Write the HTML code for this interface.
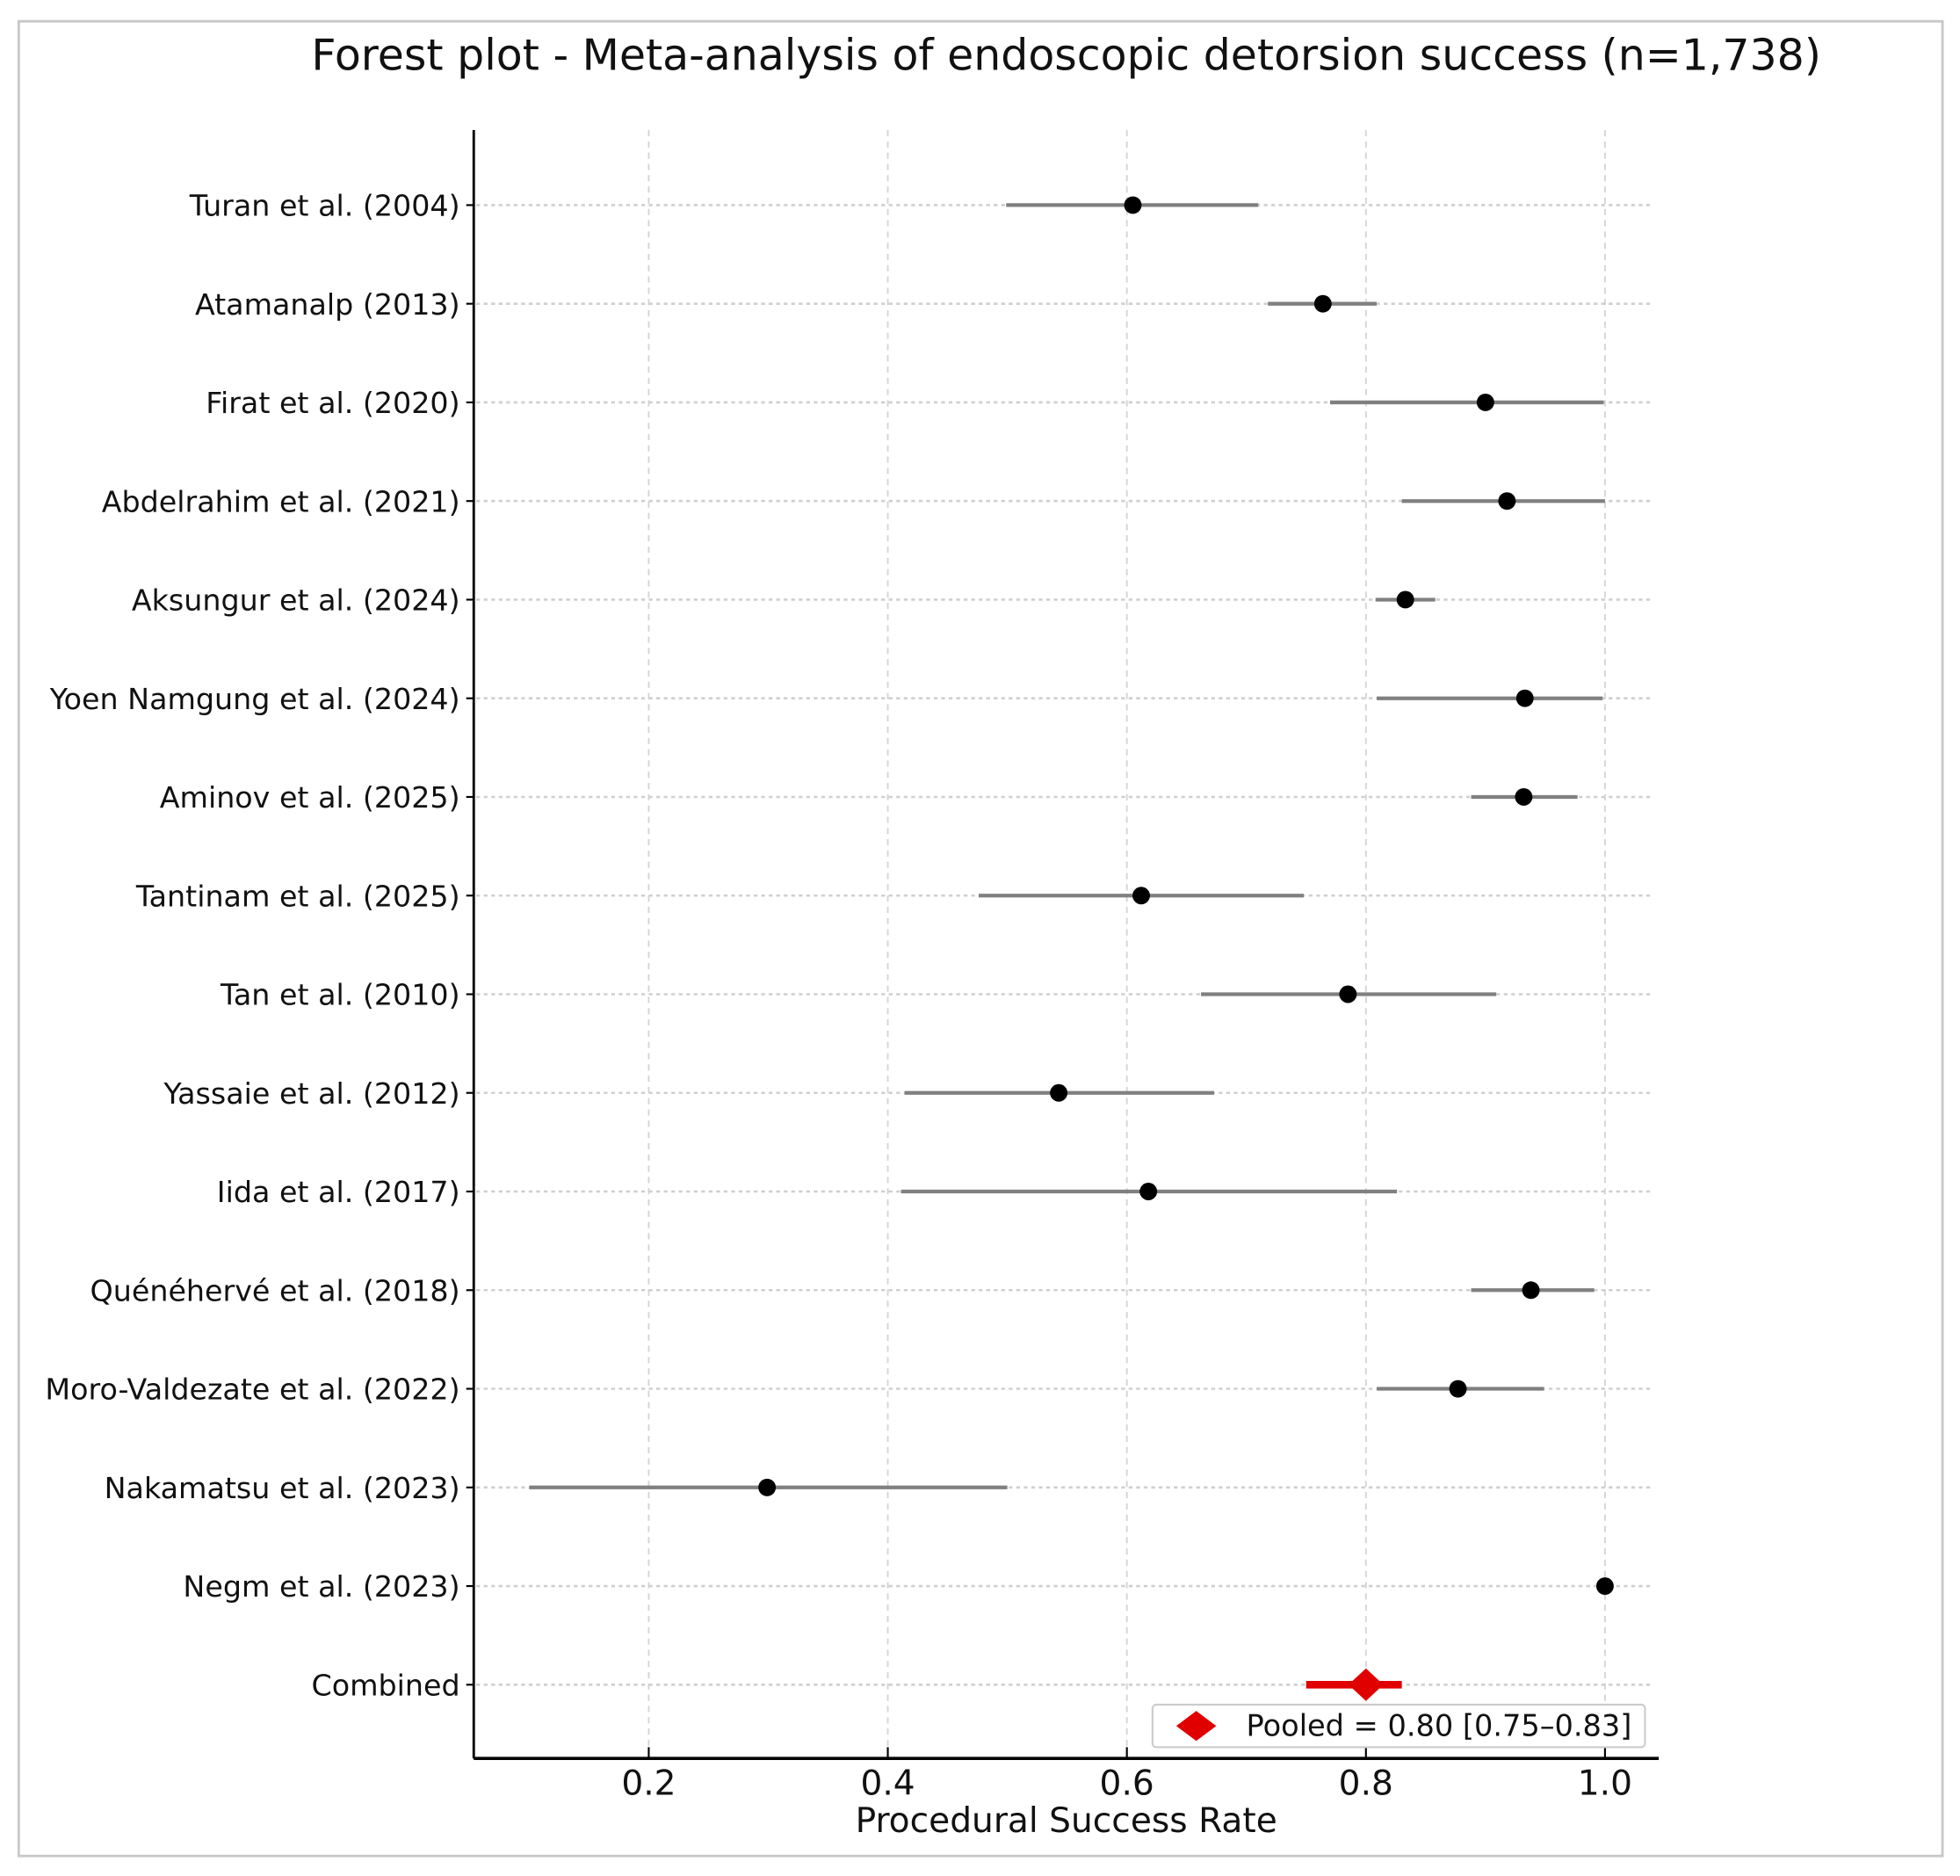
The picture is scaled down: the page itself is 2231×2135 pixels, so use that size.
<!DOCTYPE html>
<html><head><meta charset="utf-8"><style>
html,body{margin:0;padding:0;background:#fff;}
svg{display:block;font-family:"DejaVu Sans","Liberation Sans",sans-serif;}
</style></head><body>
<svg id="chart" width="2231" height="2135" viewBox="0 0 1568 1500" preserveAspectRatio="none" xmlns="http://www.w3.org/2000/svg">
<rect x="15" y="17" width="1539" height="1467" fill="#fff" stroke="#c8c8c8" stroke-width="2"/>
<text x="853" y="56" font-size="34.4" text-anchor="middle" fill="#111">Forest plot - Meta-analysis of endoscopic detorsion success (n=1,738)</text>
<g id="grid"></g>
<g id="marks"></g>
<line x1="379" y1="104" x2="379" y2="1406" stroke="#000" stroke-width="2"/>
<line x1="379" y1="1406" x2="1327" y2="1406" stroke="#000" stroke-width="2.5"/>
<g id="xticks"></g>
<g id="ylabels"></g>
<text x="853" y="1465" font-size="27.5" text-anchor="middle" fill="#111">Procedural Success Rate</text>
<g>
<rect x="922" y="1363" width="394" height="34" rx="3" fill="#fff" stroke="#ccc" stroke-width="1.5"/>
<path d="M957 1368 L973 1380 L957 1392 L941 1380 Z" fill="#e00000"/>
<text x="997" y="1388" font-size="23.6" fill="#111">Pooled = 0.80 [0.75–0.83]</text>
</g>
</svg>
<script>
const studies=["Turan et al. (2004)","Atamanalp (2013)","Firat et al. (2020)","Abdelrahim et al. (2021)","Aksungur et al. (2024)","Yoen Namgung et al. (2024)","Aminov et al. (2025)","Tantinam et al. (2025)","Tan et al. (2010)","Yassaie et al. (2012)","Iida et al. (2017)","Quénéhervé et al. (2018)","Moro-Valdezate et al. (2022)","Nakamatsu et al. (2023)","Negm et al. (2023)","Combined"];
const estimates=[0.605,0.764,0.900,0.918,0.833,0.933,0.932,0.612,0.785,0.543,0.618,0.938,0.877,0.299,1.0];
const lowerCI=[0.499,0.718,0.770,0.830,0.808,0.809,0.888,0.476,0.662,0.414,0.411,0.888,0.809,0.100,1.0];
const upperCI=[0.710,0.809,0.999,1.000,0.858,0.998,0.977,0.748,0.909,0.673,0.826,0.991,0.949,0.500,1.0];
const pooled=[0.80,0.75,0.83];
const xTicks=[0.2,0.4,0.6,0.8,1.0];
const xTickLabels=["0.2","0.4","0.6","0.8","1.0"];

const NS="http://www.w3.org/2000/svg";
function X(v){return 327.75+v*956.25;}
function Y(i){return 164+i*78.87;}
function mk(tag,attrs,parent,txt){const e=document.createElementNS(NS,tag);for(const k in attrs)e.setAttribute(k,attrs[k]);if(txt!==undefined)e.textContent=txt;parent.appendChild(e);return e;}
const grid=document.getElementById('grid'),marks=document.getElementById('marks'),xt=document.getElementById('xticks'),yl=document.getElementById('ylabels');
xTicks.forEach((t,i)=>{
  const g=mk('line',{x1:X(t),y1:104,x2:X(t),y2:1406,stroke:'#d4d4d4','stroke-width':1.3,'stroke-dasharray':'5,4'},grid);
  
  
  const tk=mk('line',{x1:X(t),y1:1406,x2:X(t),y2:1397,stroke:'#000','stroke-width':1.5},xt);
  
  
  const tl=mk('text',{x:X(t),y:1435,'font-size':27.5,'text-anchor':'middle',fill:'#111'},xt,xTickLabels[i]);
  
  
});
studies.forEach((s,i)=>{
  const y=Y(i);
  const h=mk('line',{x1:381,y1:y,x2:1323,y2:y,stroke:'#cfcfcf','stroke-width':1.8,'stroke-dasharray':'3,3'},grid);
  
  
  const tk=mk('line',{x1:379,y1:y,x2:373,y2:y,stroke:'#000','stroke-width':1.5},yl);
  
  
  const lb=mk('text',{x:368,y:y+8.5,'font-size':23.4,'text-anchor':'end',fill:'#111'},yl,s);
  
  
});
estimates.forEach((v,i)=>{
  const y=Y(i);
  const ci=mk('line',{x1:X(lowerCI[i]),y1:y,x2:X(upperCI[i]),y2:y,stroke:'#808080','stroke-width':3},marks);
  
  
  const p=mk('circle',{cx:X(v),cy:y,r:7,fill:'#000'},marks);
  
  
});
const py=Y(studies.length-1);
const pc=mk('line',{x1:X(pooled[1]),y1:py,x2:X(pooled[2]),y2:py,stroke:'#e00000','stroke-width':6},marks);


const px=X(pooled[0]);
const pd=mk('path',{d:`M${px} ${py-13} L${px+14} ${py} L${px} ${py+13} L${px-14} ${py} Z`,fill:'#e00000'},marks);


</script>
</body></html>
